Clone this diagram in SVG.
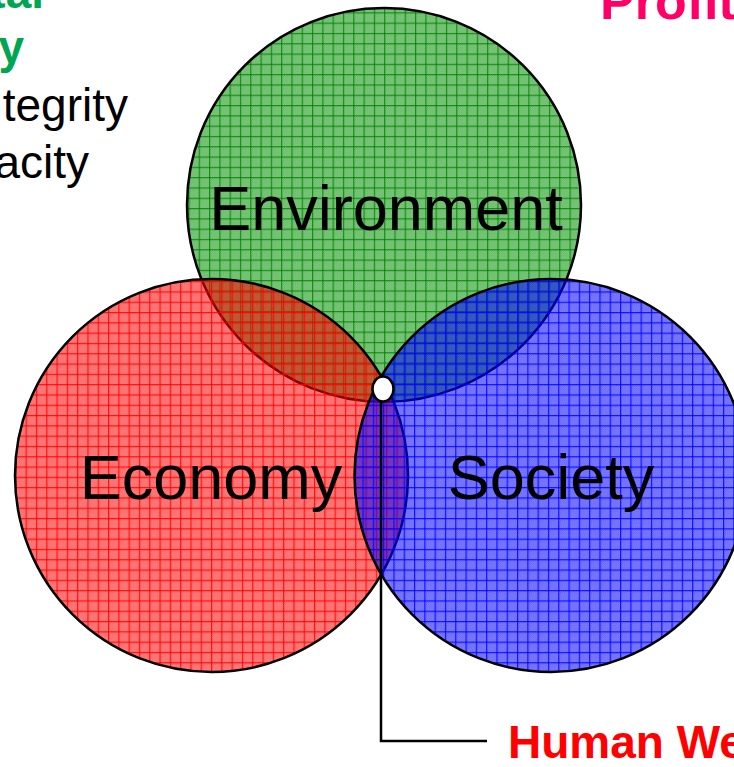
<svg xmlns="http://www.w3.org/2000/svg" xmlns:xlink="http://www.w3.org/1999/xlink" width="734" height="767" viewBox="0 0 734 767">
  <defs>
    <pattern id="chkG" patternUnits="userSpaceOnUse" width="2" height="2">
      <rect width="2" height="2" fill="#009000" fill-opacity="0.4"/>
      <rect width="1" height="1" fill="#009000" fill-opacity="0.5"/>
      <rect x="1" y="1" width="1" height="1" fill="#009000" fill-opacity="0.5"/>
    </pattern>
    <pattern id="chkR" patternUnits="userSpaceOnUse" width="2" height="2">
      <rect width="2" height="2" fill="#ff0000" fill-opacity="0.4"/>
      <rect width="1" height="1" fill="#ff0000" fill-opacity="0.5"/>
      <rect x="1" y="1" width="1" height="1" fill="#ff0000" fill-opacity="0.5"/>
    </pattern>
    <pattern id="chkB" patternUnits="userSpaceOnUse" width="2" height="2">
      <rect width="2" height="2" fill="#0000ff" fill-opacity="0.4"/>
      <rect width="1" height="1" fill="#0000ff" fill-opacity="0.5"/>
      <rect x="1" y="1" width="1" height="1" fill="#0000ff" fill-opacity="0.5"/>
    </pattern>
    <pattern id="gridG" patternUnits="userSpaceOnUse" width="10.3" height="10.3" x="3" y="2">
      <rect width="10.3" height="10.3" fill="url(#chkG)"/>
      <rect width="1.2" height="10.3" fill="#008000" fill-opacity="0.8"/>
      <rect width="10.3" height="1.2" fill="#008000" fill-opacity="0.8"/>
    </pattern>
    <pattern id="gridR" patternUnits="userSpaceOnUse" width="10.3" height="10.3" x="5" y="3">
      <rect width="10.3" height="10.3" fill="url(#chkR)"/>
      <rect width="1.2" height="10.3" fill="#ff0000" fill-opacity="0.85"/>
      <rect width="10.3" height="1.2" fill="#ff0000" fill-opacity="0.85"/>
    </pattern>
    <pattern id="gridB" patternUnits="userSpaceOnUse" width="10.3" height="10.3" x="2" y="3">
      <rect width="10.3" height="10.3" fill="url(#chkB)"/>
      <rect width="1.2" height="10.3" fill="#0000ff" fill-opacity="0.85"/>
      <rect width="10.3" height="1.2" fill="#0000ff" fill-opacity="0.85"/>
    </pattern>
  </defs>
  <style>
    .ring { stroke: #000; stroke-width: 2.5; }
    .big { font-family: "Liberation Sans", Arial, sans-serif; font-size: 63px; fill: #000; text-anchor: middle; }
    .side { font-family: "Liberation Sans", Arial, sans-serif; font-size: 46px; fill: #000; text-anchor: end; }
    .head { font-family: "Liberation Sans", Arial, sans-serif; font-size: 46px; font-weight: bold; }
    .profit { font-size: 52px; fill: #ff0066; }
    .conn { fill: none; stroke: #000; stroke-width: 2.5; }
  </style>
  <rect width="734" height="767" fill="#fff"/>

  <g id="node-environment">
    <circle class="ring" cx="384" cy="205" r="197" fill="url(#gridG)"/>
    <text class="big" x="386" y="230">Environment</text>
  </g>
  <g id="node-economy">
    <circle class="ring" cx="211.5" cy="475.5" r="196.5" fill="url(#gridR)"/>
    <text class="big" x="211" y="499">Economy</text>
  </g>
  <g id="node-society">
    <circle class="ring" cx="551" cy="475.5" r="196.5" fill="url(#gridB)"/>
    <text class="big" x="551" y="499">Society</text>
  </g>

  <g id="connectors">
    <path class="conn" d="M381,401 V741 H487"/>
  </g>

  <g id="node-center">
    <ellipse cx="383" cy="389" rx="10.5" ry="12.5" fill="#fff" stroke="#000" stroke-width="2.5"/>
  </g>

  <g id="label-human">
    <text class="head" x="508" y="758" fill="#ff0000">Human We</text>
  </g>
  <g id="label-profit">
    <text class="head profit" x="600" y="19">Profit</text>
  </g>
  <g id="label-env-sustain">
    <text class="head" x="44" y="8" fill="#00a651" text-anchor="end">tal</text>
    <text class="head" x="24" y="63" fill="#00a651" text-anchor="end">y</text>
    <text class="side" x="128" y="121">tegrity</text>
    <text class="side" x="89" y="178">acity</text>
  </g>
</svg>
